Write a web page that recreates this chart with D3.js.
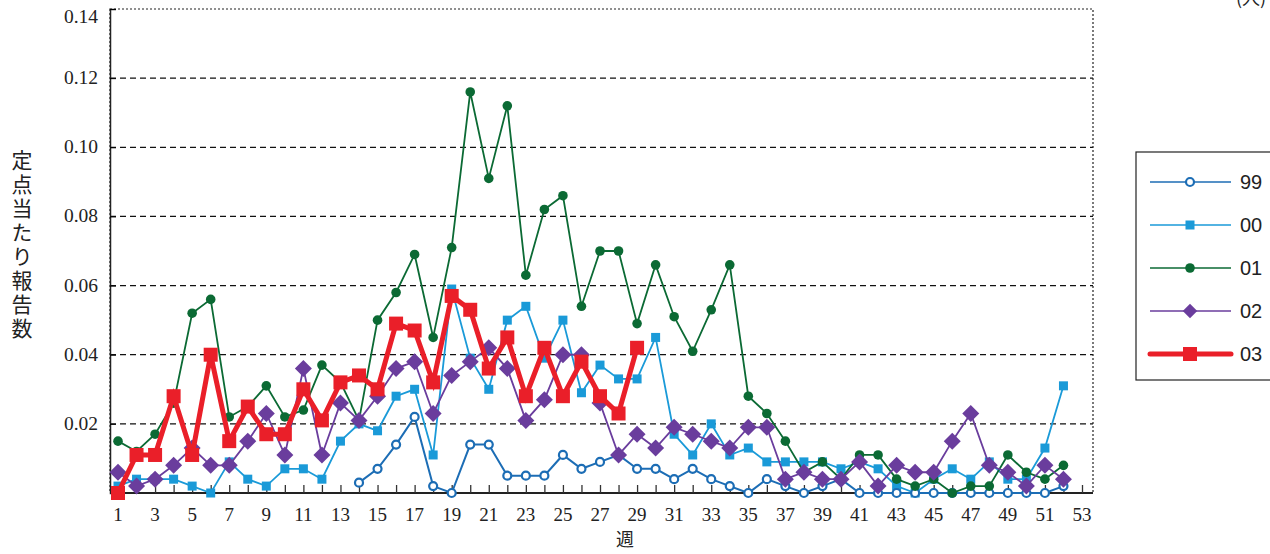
<html>
<head>
<meta charset="utf-8">
<script src="https://d3js.org/d3.v7.min.js"></script>
<style>
  body { margin: 0; background: #fff; overflow: hidden; }
</style>
</head>
<body>
<svg width="1270" height="554"></svg>
<script>
// weekly values per year (null = no data)
var weeks = d3.range(1, 53);
var s99 = [null,null,null,null,null,null,null,null,null,null,null,null,null,
  0.003,0.007,0.014,0.022,0.002,0,0.014,0.014,0.005,0.005,0.005,0.011,0.007,0.009,0.011,0.007,0.007,
  0.004,0.007,0.004,0.002,0,0.004,0.002,0,0.002,0.004,0,0,0,0,0,0,0,0,0,0,0,0.002];
var s00 = [0.002,0.004,0.004,0.004,0.002,0,0.009,0.004,0.002,0.007,0.007,0.004,0.015,0.020,0.018,0.028,
  0.030,0.011,0.059,0.039,0.030,0.050,0.054,0.039,0.050,0.029,0.037,0.033,0.033,0.045,0.017,0.011,
  0.020,0.011,0.013,0.009,0.009,0.009,0.009,0.007,0.009,0.007,0.002,0,0.004,0.007,0.004,0.009,0.004,
  0.004,0.013,0.031];
var s01 = [0.015,0.012,0.017,0.026,0.052,0.056,0.022,0.025,0.031,0.022,0.024,0.037,0.032,0.021,0.050,
  0.058,0.069,0.045,0.071,0.116,0.091,0.112,0.063,0.082,0.086,0.054,0.070,0.070,0.049,0.066,0.051,
  0.041,0.053,0.066,0.028,0.023,0.015,0.006,0.009,0.004,0.011,0.011,0.004,0.002,0.004,0,0.002,0.002,
  0.011,0.006,0.004,0.008];
var s02 = [0.006,0.002,0.004,0.008,0.013,0.008,0.008,0.015,0.023,0.011,0.036,0.011,0.026,0.021,0.028,
  0.036,0.038,0.023,0.034,0.038,0.042,0.036,0.021,0.027,0.040,0.040,0.026,0.011,0.017,0.013,0.019,
  0.017,0.015,0.013,0.019,0.019,0.004,0.006,0.004,0.004,0.009,0.002,0.008,0.006,0.006,0.015,0.023,
  0.008,0.006,0.002,0.008,0.004];
var s03 = [0,0.011,0.011,0.028,0.011,0.040,0.015,0.025,0.017,0.017,0.030,0.021,0.032,0.034,0.030,0.049,
  0.047,0.032,0.057,0.053,0.036,0.045,0.028,0.042,0.028,0.038,0.028,0.023,0.042];
var yTicks = [0.02, 0.04, 0.06, 0.08, 0.10, 0.12, 0.14];
var xLabels = d3.range(1, 54, 2);

var series = [
  {name: "00", values: s00, color: "#1a9ad8", width: 1.8, shape: "square", size: 9, fill: "#1a9ad8"},
  {name: "99", values: s99, color: "#1c6db5", width: 2, shape: "circle", size: 4, fill: "#fff"},
  {name: "01", values: s01, color: "#0b6a34", width: 1.8, shape: "circle", size: 4.8, fill: "#0b6a34"},
  {name: "02", values: s02, color: "#6a3d9d", width: 1.8, shape: "diamond", size: 8.5, fill: "#6a3d9d"},
  {name: "03", values: s03, color: "#ea1f29", width: 5, shape: "square", size: 14, fill: "#ea1f29"}
];
var legendOrder = ["99", "00", "01", "02", "03"];

var plotL = 110, plotR = 1093, plotT = 9, plotB = 493;
var x = d3.scaleLinear().domain([1, 53]).range([118, 1082]);
var y = d3.scaleLinear().domain([0, 0.14]).range([plotB, plotT]);

var svg = d3.select("svg");

// horizontal dashed grid
svg.append("g").selectAll("line")
  .data(yTicks.slice(0, -1))
  .enter().append("line")
  .attr("x1", plotL).attr("x2", plotR)
  .attr("y1", d => y(d)).attr("y2", d => y(d))
  .attr("stroke", "#111").attr("stroke-width", 1.2)
  .attr("stroke-dasharray", "6,4");

// dotted frame
svg.append("rect")
  .attr("x", plotL).attr("y", plotT)
  .attr("width", plotR - plotL).attr("height", plotB - plotT)
  .attr("fill", "none").attr("stroke", "#222").attr("stroke-width", 1.2)
  .attr("stroke-dasharray", "2,2");

// y axis
var yAxis = svg.append("g")
  .attr("transform", "translate(" + plotL + ",0)")
  .call(d3.axisRight(y).tickValues(yTicks).tickSize(6).tickFormat(""));
yAxis.select(".domain").attr("stroke", "#222").attr("stroke-width", 1.5);
svg.append("g").selectAll("text")
  .data(yTicks)
  .enter().append("text")
  .attr("x", 98).attr("y", d => Math.max(y(d), 17) + 6)
  .attr("text-anchor", "end")
  .attr("font-family", "Liberation Serif, serif")
  .attr("font-size", 19.5).attr("fill", "#222")
  .text(d3.format(".2f"));

// x axis
var xAxis = svg.append("g")
  .attr("transform", "translate(0," + plotB + ")")
  .call(d3.axisTop(x).tickValues(d3.range(1, 54)).tickSize(8).tickSizeOuter(0).tickFormat(""));
xAxis.select(".domain").attr("d", "M" + plotL + ",0H" + plotR).attr("stroke", "#222").attr("stroke-width", 2);
xAxis.selectAll(".tick line").attr("stroke", "#333").attr("stroke-width", 1.3);
svg.append("g").selectAll("text")
  .data(xLabels)
  .enter().append("text")
  .attr("x", d => x(d)).attr("y", 521)
  .attr("text-anchor", "middle")
  .attr("font-family", "Liberation Serif, serif")
  .attr("font-size", 19).attr("fill", "#222")
  .text(d => d);

function drawMarker(g, s, cx, cy, scale) {
  var k = scale || 1;
  if (s.shape === "circle") {
    g.append("circle").attr("cx", cx).attr("cy", cy).attr("r", s.size * k)
      .attr("fill", s.fill).attr("stroke", s.color).attr("stroke-width", s.fill === "#fff" ? 2.2 : 0);
  } else if (s.shape === "square") {
    var h = s.size * k / 2;
    g.append("rect").attr("x", cx - h).attr("y", cy - h).attr("width", 2 * h).attr("height", 2 * h)
      .attr("fill", s.fill);
  } else {
    var r = s.size * k;
    g.append("path")
      .attr("d", "M" + cx + "," + (cy - r) + "L" + (cx + r) + "," + cy + "L" + cx + "," + (cy + r) + "L" + (cx - r) + "," + cy + "Z")
      .attr("fill", s.fill);
  }
}

var line = d3.line()
  .defined(d => d.v !== null)
  .x(d => x(d.w)).y(d => y(d.v));

series.forEach(function(s) {
  var pts = s.values.map((v, i) => ({w: weeks[i], v: v}));
  var g = svg.append("g");
  g.append("path").datum(pts)
    .attr("d", line)
    .attr("fill", "none").attr("stroke", s.color)
    .attr("stroke-width", s.width).attr("stroke-linejoin", "miter");
  pts.filter(d => d.v !== null).forEach(function(d) {
    drawMarker(g, s, x(d.w), y(d.v));
  });
});

// legend
svg.append("rect")
  .attr("x", 1136).attr("y", 152).attr("width", 140).attr("height", 228)
  .attr("fill", "#fff").attr("stroke", "#222").attr("stroke-width", 1.2);
legendOrder.forEach(function(name, i) {
  var s = series.find(d => d.name === name);
  var ly = 182 + i * 43;
  var g = svg.append("g");
  g.append("line").attr("x1", 1150).attr("x2", 1231).attr("y1", ly).attr("y2", ly)
    .attr("stroke", s.color).attr("stroke-width", s.width === 5 ? 5 : 1.5)
    .attr("stroke-linecap", s.width === 5 ? "round" : "butt");
  drawMarker(g, s, 1190, ly, s.shape === "diamond" ? 0.85 : 1);
  g.append("text").attr("x", 1240).attr("y", ly + 7)
    .attr("font-family", "Liberation Sans, Arial, sans-serif")
    .attr("font-size", 20).attr("fill", "#222")
    .text(name);
});

// axis titles
svg.append("text")
  .attr("x", 22).attr("y", 150)
  .style("writing-mode", "vertical-rl")
  .style("text-orientation", "upright")
  .style("letter-spacing", "3px")
  .attr("font-family", "Noto Sans CJK JP, sans-serif")
  .attr("font-size", 21).attr("fill", "#222")
  .text("定点当たり報告数");
svg.append("text")
  .attr("x", 625).attr("y", 546)
  .attr("text-anchor", "middle")
  .attr("font-family", "Noto Sans CJK JP, sans-serif")
  .attr("font-size", 18).attr("fill", "#222")
  .text("週");
svg.append("text")
  .attr("x", 1236).attr("y", 5)
  .attr("font-family", "Noto Sans CJK JP, sans-serif")
  .attr("font-size", 18).attr("fill", "#222")
  .text("(人)");
</script>
</body>
</html>
